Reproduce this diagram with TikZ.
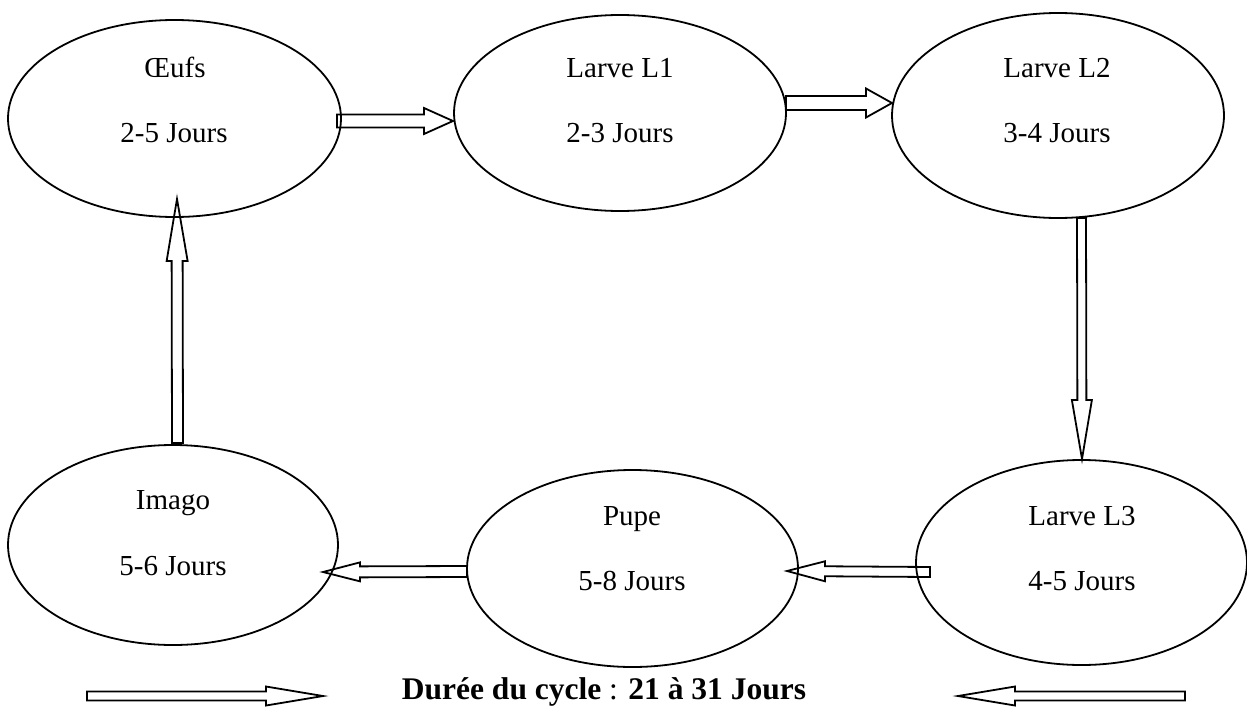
\documentclass[tikz,border=0pt]{standalone}
\usepackage{fontspec}
\setmainfont{Liberation Serif}
\usetikzlibrary{calc,shapes.geometric}
\tikzset{
  stage/.style={ellipse, draw, line width=1.8pt, inner sep=0pt, outer sep=0pt},
  lbl/.style={anchor=base, inner sep=0pt, font=\fontsize{29}{34}\selectfont},
  blk/.style={draw, line width=1.8pt, line join=miter},
}
\newcommand\blockarr[5]{%
  \coordinate (bs) at (#1);
  \coordinate (bt) at (#2);
  \coordinate (bh) at ($(bt)!#5!(bs)$);
  \draw[blk] ($(bs)!#3!90:(bt)$) -- ($(bh)!#3!90:(bt)$) -- ($(bh)!#4!90:(bt)$) -- (bt)
    -- ($(bh)!#4!-90:(bt)$) -- ($(bh)!#3!-90:(bt)$) -- ($(bs)!#3!-90:(bt)$) -- cycle;
}
\begin{document}
\begin{tikzpicture}[x=1pt,y=-1pt]
\useasboundingbox (0,0) rectangle (1247,709);
% stages
\node[stage, minimum width=333pt, minimum height=197pt] (e1) at (174.5,118.5) {};
\node[stage, minimum width=332pt, minimum height=196pt] (e2) at (620,113) {};
\node[stage, minimum width=332pt, minimum height=205pt] (e3) at (1058,115.5) {};
\node[stage, minimum width=330pt, minimum height=200pt] (e4) at (173,545) {};
\node[stage, minimum width=331pt, minimum height=197pt] (e5) at (632.5,568.5) {};
\node[stage, minimum width=331pt, minimum height=205pt] (e6) at (1081.5,562.5) {};
% labels
\node[lbl] (t1a) at (175,77.5) {Œufs};
\node[lbl] (t1b) at (174,142.5) {2-5 Jours};
\node[lbl] (t2a) at (620,77.5) {Larve L1};
\node[lbl] (t2b) at (620,142.5) {2-3 Jours};
\node[lbl] (t3a) at (1057,77.5) {Larve L2};
\node[lbl] (t3b) at (1057,142.5) {3-4 Jours};
\node[lbl] (t4a) at (173,509) {Imago};
\node[lbl] (t4b) at (173,575.5) {5-6 Jours};
\node[lbl] (t5a) at (632,525) {Pupe};
\node[lbl] (t5b) at (632,590) {5-8 Jours};
\node[lbl] (t6a) at (1082,525) {Larve L3};
\node[lbl] (t6b) at (1082,590) {4-5 Jours};
% connectors
\blockarr{$(e1.east)+(-4,2.5)$}{$(e2.west)+(-1,8)$}{6.5pt}{13pt}{29pt}
\blockarr{$(e2.east)+(0,-10)$}{$(e3.west)+(0,-12.5)$}{7pt}{14.5pt}{26pt}
\blockarr{$(e3.south)+(23.5,0)$}{$(e6.north)+(0.5,-1)$}{4.5pt}{10pt}{59pt}
\blockarr{$(e6.west)+(14,9.5)$}{$(e5.east)+(-11,2.5)$}{5pt}{10pt}{38pt}
\blockarr{$(e5.west)+(0,3)$}{$(e4.east)+(-15,27)$}{5.5pt}{9.5pt}{37pt}
\blockarr{$(e4.north)+(4.5,-2)$}{$(e1.south)+(2.5,-18)$}{5.5pt}{10.5pt}{62pt}
% cycle duration
\coordinate (l0) at (87,696);
\coordinate (l1) at (323,696);
\coordinate (r0) at (1185,696);
\coordinate (r1) at (958,696);
\blockarr{l0}{l1}{4.5pt}{9.5pt}{57pt}
\blockarr{r0}{r1}{4.5pt}{9.5pt}{57pt}
\node[anchor=base, inner sep=0pt, font=\fontsize{31.5}{36}\selectfont] (cycle) at (604,699)
  {\textbf{Durée du cycle} : \textbf{21 à 31 Jours}};
\end{tikzpicture}
\end{document}
